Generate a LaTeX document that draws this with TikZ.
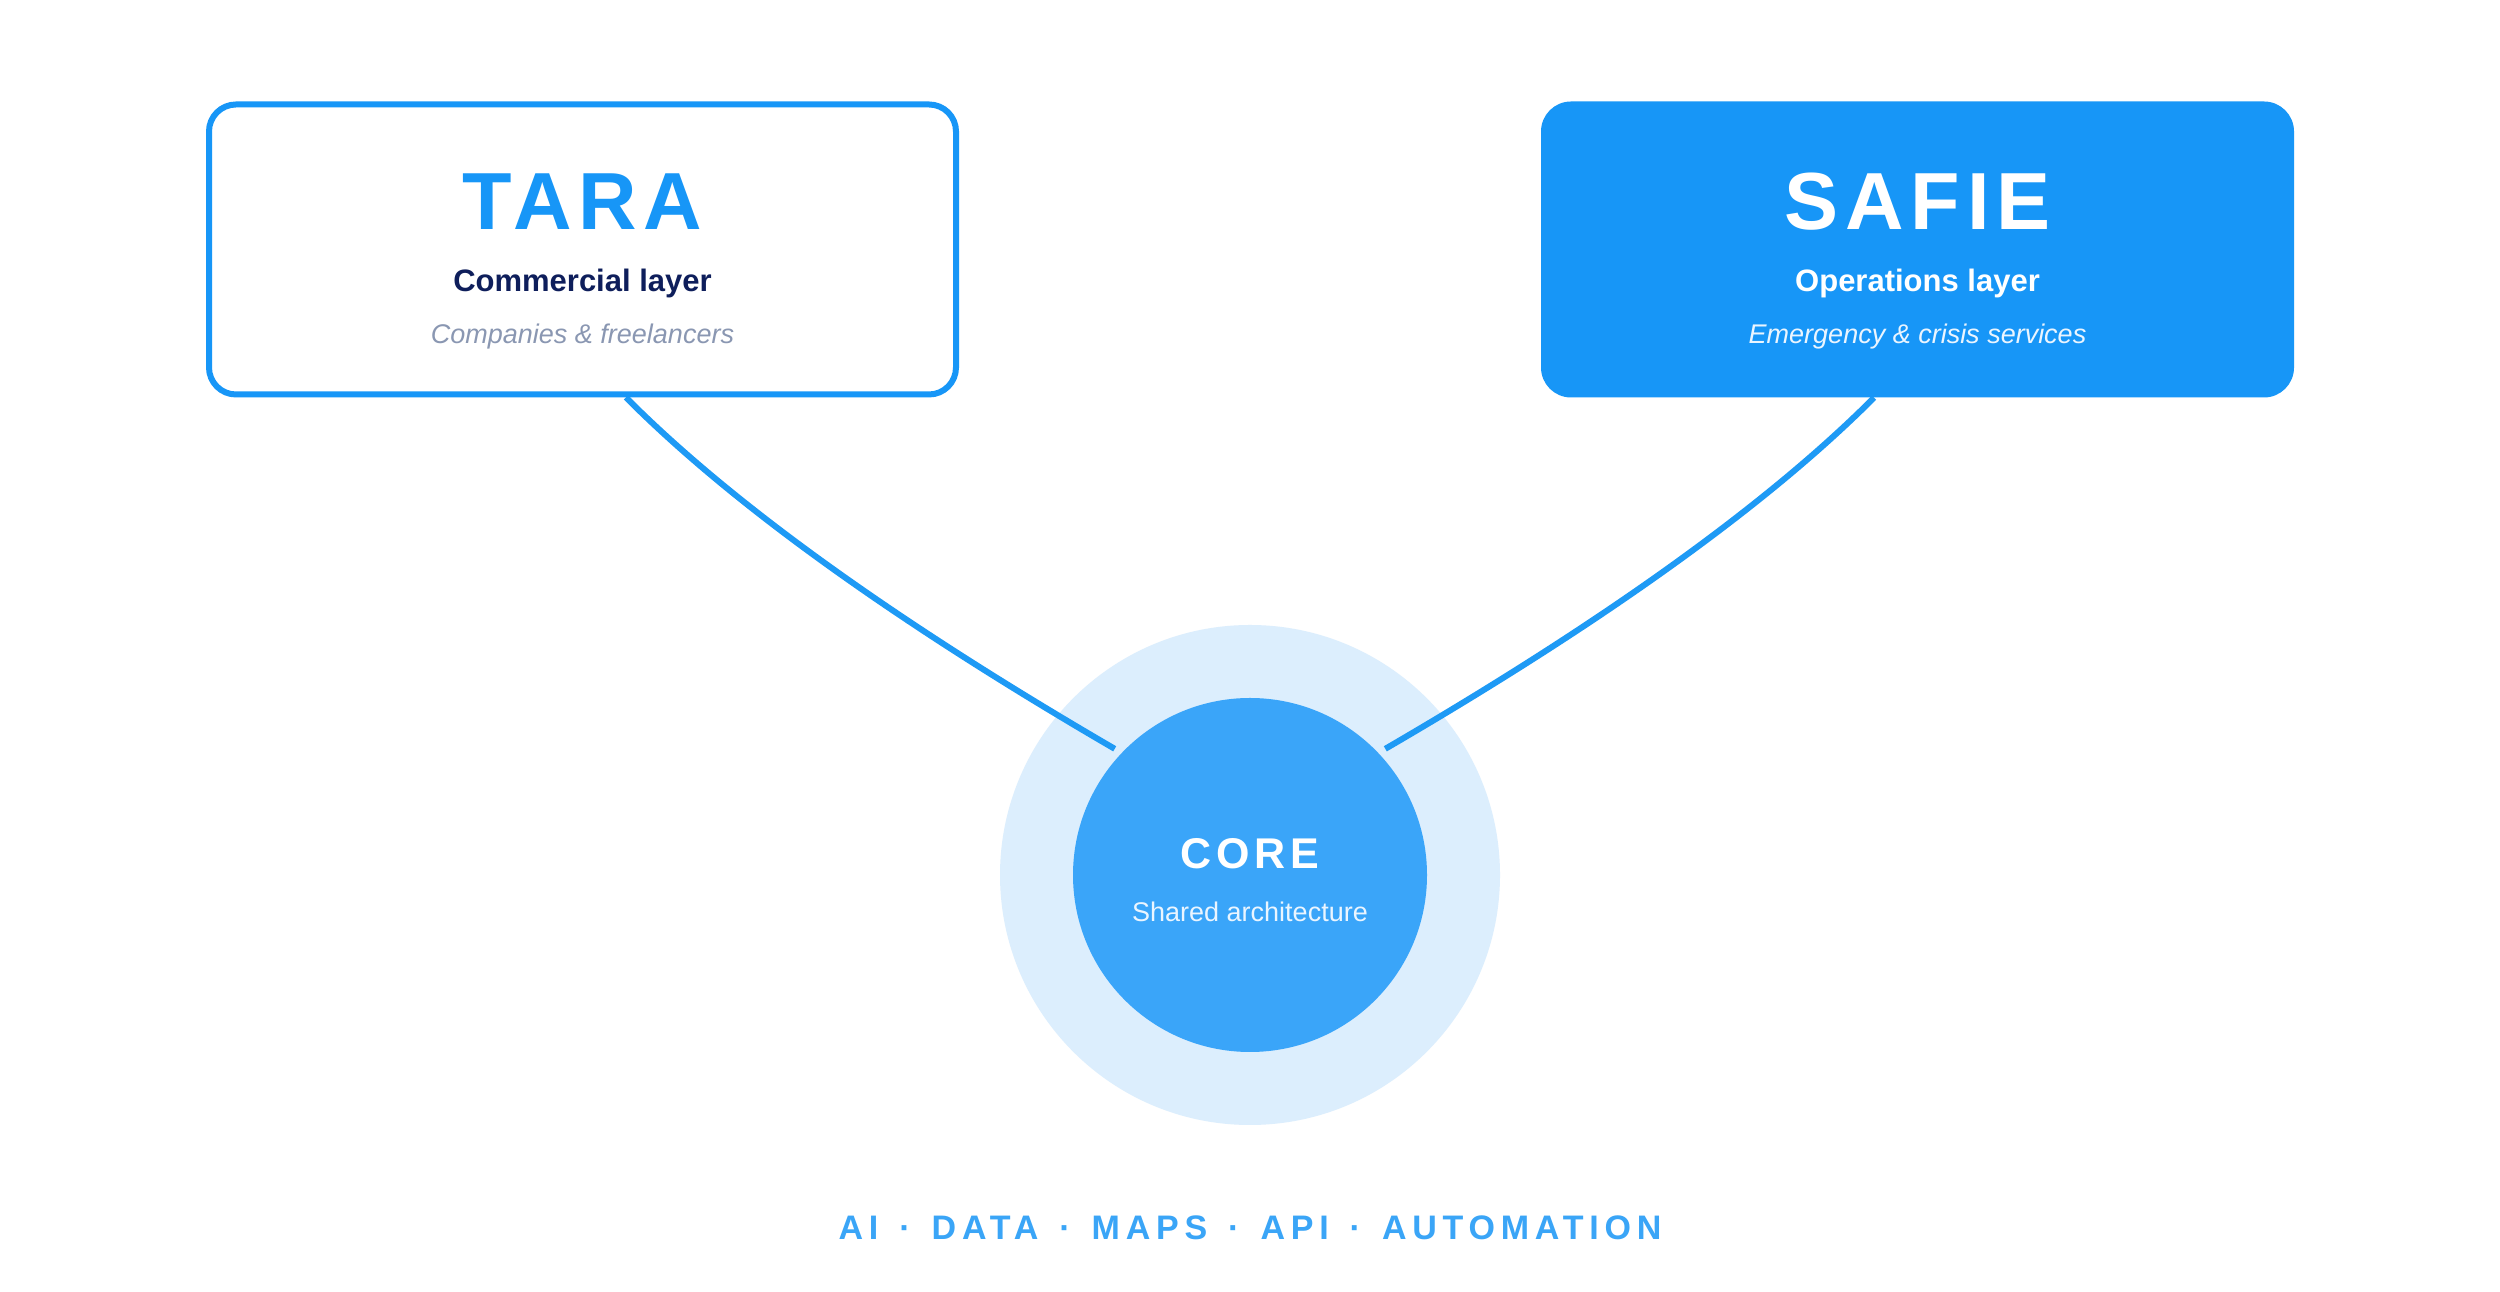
\documentclass[tikz,border=0pt]{standalone}
\usepackage{fontspec}
\setmainfont{Liberation Sans}
\newfontfamily\ttlfont[LetterSpace=8.5]{Liberation Sans}
\newfontfamily\corefont[LetterSpace=11]{Liberation Sans}
\newfontfamily\techfont[LetterSpace=17]{Liberation Sans}
\newcommand\techsep{\ \hspace{5.75pt}·\ \hspace{5.75pt}}
\definecolor{brand}{HTML}{1796F7}
\definecolor{linkcol}{HTML}{1E9AF5}
\definecolor{navy}{HTML}{0E1E5B}
\definecolor{graytxt}{HTML}{8A97B2}
\definecolor{corecol}{HTML}{3AA5F9}
\definecolor{halocol}{HTML}{DCEEFD}
\definecolor{palewhite}{HTML}{EAF5FF}
\definecolor{techcol}{HTML}{3AA5F7}
\pgfdeclarelayer{halolayer}
\pgfdeclarelayer{linklayer}
\pgfsetlayers{halolayer,linklayer,main}
\tikzset{
  lbl/.style={inner sep=0pt, anchor=base},
  tarabox/.style={rectangle, rounded corners=27pt, draw=brand, line width=6pt, fill=white,
    minimum width=747pt, minimum height=290pt, inner sep=0pt},
  safiebox/.style={rectangle, rounded corners=30pt, fill=brand, draw=none,
    minimum width=753pt, minimum height=296pt, inner sep=0pt},
  coredisc/.style={circle, fill=corecol, minimum size=354pt, inner sep=0pt, outer sep=8pt},
  halodisc/.style={circle, fill=halocol, minimum size=500pt, inner sep=0pt},
  link/.style={draw=linkcol, line width=6pt}
}
\begin{document}
\begin{tikzpicture}[x=1pt,y=1pt]
\useasboundingbox (0,0) rectangle (2500,1292);
\begin{pgfonlayer}{halolayer}
  \fill[white] (0,0) rectangle (2500,1292);
\end{pgfonlayer}

\node[tarabox] (tara) at (582.5,1042.5) {};
\node[safiebox] (safie) at (1917.5,1042.5) {};
\node[coredisc] (core) at (1250,417) {};
\begin{pgfonlayer}{halolayer}
  \node[halodisc] (halo) at (core.center) {};
\end{pgfonlayer}

\node[lbl, text=brand, font=\ttlfont\bfseries\fontsize{81}{81}\selectfont] (taraT) at (582.5,1062) {TARA};
\node[lbl, text=navy, font=\bfseries\fontsize{31}{31}\selectfont] (taraS) at (582.5,1000.3) {Commercial layer};
\node[lbl, text=graytxt, font=\itshape\fontsize{27}{27}\selectfont] (taraD) at (582.5,948) {Companies \& freelancers};

\node[lbl, text=white, font=\ttlfont\bfseries\fontsize{81}{81}\selectfont] (safieT) at (1917.5,1062) {SAFIE};
\node[lbl, text=white, font=\bfseries\fontsize{31}{31}\selectfont] (safieS) at (1917.5,1000.3) {Operations layer};
\node[lbl, text=palewhite, font=\itshape\fontsize{27}{27}\selectfont] (safieD) at (1917.5,948) {Emergency \& crisis services};

\node[lbl, text=white, font=\corefont\bfseries\fontsize{43}{43}\selectfont] (coreT) at (1250,423) {CORE};
\node[lbl, text=palewhite, font=\fontsize{27}{27}\selectfont] (coreS) at (1250,370) {Shared architecture};

\node[lbl, text=techcol, font=\techfont\bfseries\fontsize{34}{34}\selectfont] (tech) at (1250,52)
  {AI\techsep DATA\techsep MAPS\techsep API\techsep AUTOMATION};

\begin{pgfonlayer}{linklayer}
  \draw[link] ([xshift=43.5pt]tara.south) .. controls (732,788) and (895,671) .. (core.137);
  \draw[link] ([xshift=-43.5pt]safie.south) .. controls (1768,788) and (1605,671) .. (core.43);
\end{pgfonlayer}
\end{tikzpicture}
\end{document}
